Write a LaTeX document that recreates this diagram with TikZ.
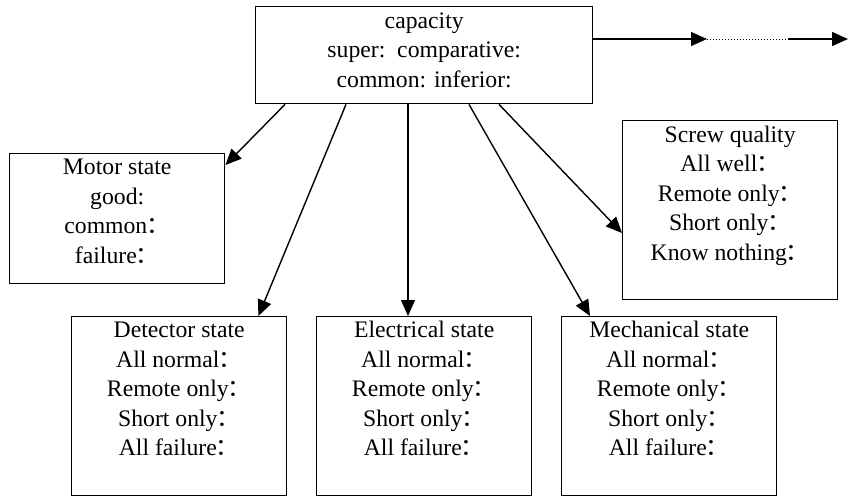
\documentclass[tikz,border=0pt]{standalone}
\usepackage{fontspec}
\setmainfont{Liberation Serif}
\newfontfamily\cjk{Noto Sans CJK SC}
\newcommand\fc{{\kern-1pt\cjk ：}}
\usetikzlibrary{arrows.meta}
\begin{document}
\begin{tikzpicture}[x=1pt,y=-1pt,
  box/.style={draw,line width=1.4pt,inner sep=0pt,anchor=north west},
  txt/.style={align=center,inner sep=0pt,anchor=north,font=\fontsize{23.7}{29.5}\selectfont},
  arr/.style={line width=1.4pt,-{Triangle[length=16pt,width=14pt]}}]
\useasboundingbox (0,0) rectangle (849,498);
% boxes
\node[box,minimum width=337pt,minimum height=97pt] (cap) at (255,6) {};
\node[box,minimum width=215pt,minimum height=130pt] (motor) at (9,153) {};
\node[box,minimum width=215pt,minimum height=179pt] (screw) at (622,120) {};
\node[box,minimum width=215pt,minimum height=179pt] (det) at (71,316) {};
\node[box,minimum width=215pt,minimum height=179pt] (elec) at (316,316) {};
\node[box,minimum width=215pt,minimum height=179pt] (mech) at (561,316) {};
% texts
\node[txt] (cap-t) at ([yshift=-1.5pt]cap.north) {\strut capacity\\super:\ \ comparative:\\common: inferior:};
\node[txt] (motor-t) at ([yshift=-1pt]motor.north) {\strut Motor state\\good:\\common\fc\\failure\fc};
\node[txt] (screw-t) at ([yshift=-1.5pt]screw.north) {\strut Screw quality\\All well\fc\\Remote only\fc\\Short only\fc\\Know nothing\fc};
\node[txt] (det-t) at ([yshift=-1pt]det.north) {\strut Detector state\\All normal\fc\\Remote only\fc\\Short only\fc\\All failure\fc};
\node[txt] (elec-t) at ([yshift=-1pt]elec.north) {\strut Electrical state\\All normal\fc\\Remote only\fc\\Short only\fc\\All failure\fc};
\node[txt] (mech-t) at ([yshift=-1pt]mech.north) {\strut Mechanical state\\All normal\fc\\Remote only\fc\\Short only\fc\\All failure\fc};
% connectors
\draw[arr] ([xshift=30pt]cap.south west) -- ([yshift=-12pt]motor.north east);
\draw[arr] ([xshift=91pt]cap.south west) -- ([xshift=-29pt]det.north east);
\draw[arr] ([xshift=153pt]cap.south west) -- ([xshift=92pt]elec.north west);
\draw[arr] ([xshift=214pt]cap.south west) -- ([xshift=29pt]mech.north west);
\draw[arr] ([xshift=244pt]cap.south west) -- ([yshift=-113pt]screw.north west);
% continuation
\coordinate (d1) at (707,39);
\coordinate (d2) at (788,39);
\coordinate (tip) at (848,39);
\draw[arr] (cap.east |- d1) -- (d1);
\draw[dotted,line width=1pt] (d1) -- (d2);
\draw[arr] (d2) -- (tip);
\end{tikzpicture}
\end{document}
